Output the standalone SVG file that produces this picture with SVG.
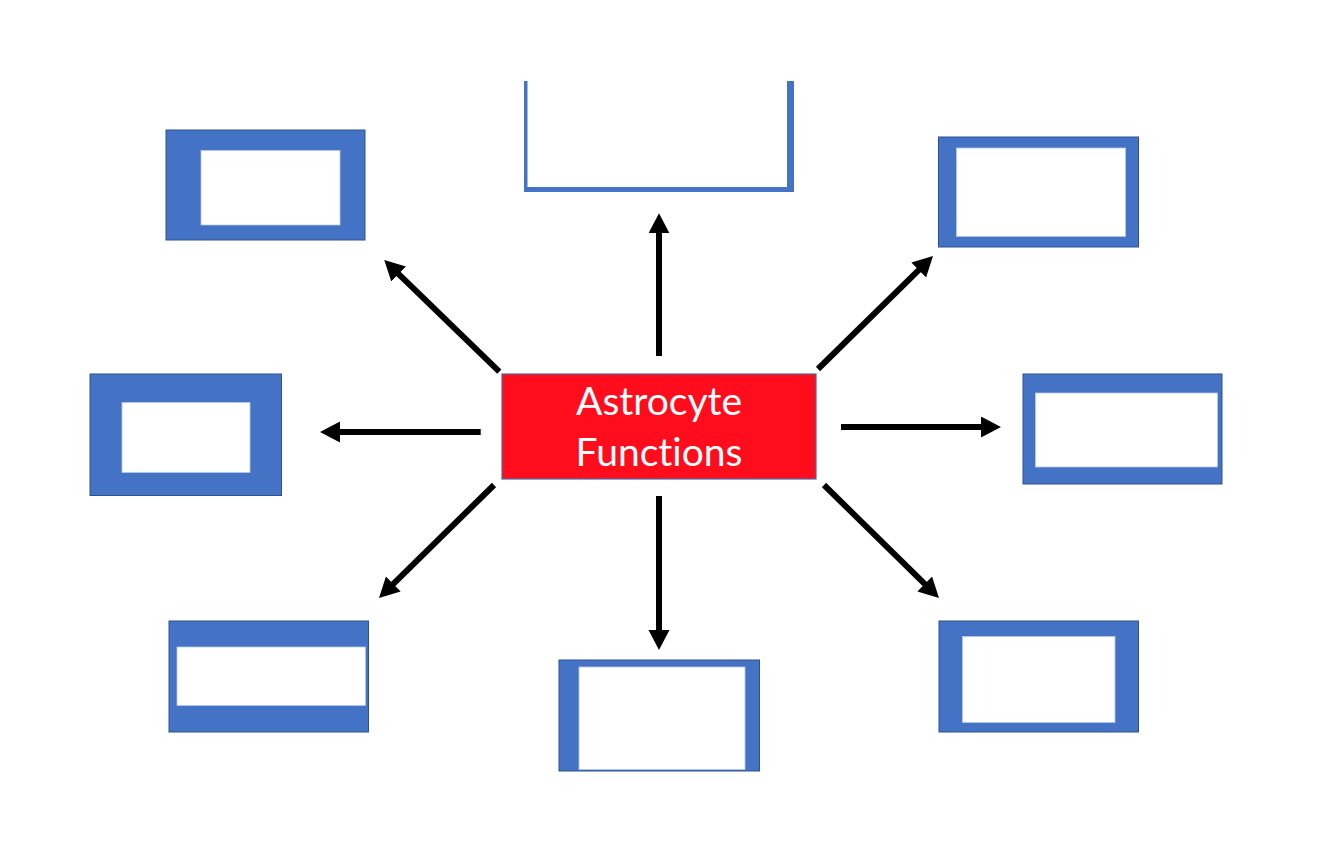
<svg xmlns="http://www.w3.org/2000/svg" width="1334" height="841" viewBox="0 0 1334 841">
<style>
.outer{fill:#4472C4;stroke:#2F528F;stroke-width:1}
.inner{fill:#FFFFFF;stroke:#B4C7E7;stroke-width:0.8}
.conn{stroke:#000000;stroke-width:6;fill:none;marker-end:url(#ah)}
.label{font-family:Lato,"Open Sans","Liberation Sans",sans-serif;font-size:39px;fill:#FFFFFF;text-anchor:middle;font-variant-ligatures:none}
</style>
<defs>
<marker id="ah" markerUnits="userSpaceOnUse" markerWidth="22" markerHeight="22" refX="6" refY="10.5" orient="auto" viewBox="0 0 22 22">
<path d="M0,0 L20,10.5 L0,21 z" fill="#000000"/>
</marker>
</defs>
<rect width="1334" height="841" fill="#FFFFFF"/>
<g id="node-top-left"><rect class="outer" x="166" y="130" width="199" height="110"/><rect class="inner" x="201" y="150.5" width="139" height="74.5"/></g>
<g id="node-top"><rect x="524" y="81" width="270" height="111" fill="#4472C4"/><rect x="527.5" y="78" width="259.5" height="109" fill="#FFFFFF"/></g>
<g id="node-top-right"><rect class="outer" x="938.5" y="137" width="200" height="110"/><rect class="inner" x="956.5" y="148" width="169" height="88.5"/></g>
<g id="node-left"><rect class="outer" x="90" y="374" width="191.5" height="121.5"/><rect class="inner" x="122" y="402.5" width="128" height="70"/></g>
<g id="node-right"><rect class="outer" x="1023" y="374" width="199" height="110"/><rect class="inner" x="1035.5" y="393" width="182" height="74"/></g>
<g id="node-bottom-left"><rect class="outer" x="169" y="621" width="199.5" height="111"/><rect class="inner" x="177" y="647" width="188.5" height="58.5"/></g>
<g id="node-bottom"><rect class="outer" x="559" y="660" width="200.5" height="111"/><rect class="inner" x="579" y="667" width="166" height="102.5"/></g>
<g id="node-bottom-right"><rect class="outer" x="939" y="621" width="199.5" height="111"/><rect class="inner" x="962.5" y="636.5" width="152.5" height="86"/></g>
<g id="node-center"><rect x="502" y="374" width="314" height="105" fill="#FF0D1D" stroke="#4A6AA8" stroke-width="1.2"/><text class="label" x="659" y="415">Astrocyte</text><text class="label" x="659" y="466">Functions</text></g>
<g id="connectors">
<line class="conn" x1="659" y1="356" x2="659" y2="227.3"/>
<line class="conn" x1="499.3" y1="371.7" x2="394.3" y2="269.8"/>
<line class="conn" x1="818" y1="369" x2="923" y2="265.8"/>
<line class="conn" x1="841" y1="427" x2="987" y2="427"/>
<line class="conn" x1="480.7" y1="432" x2="334" y2="432"/>
<line class="conn" x1="824" y1="485" x2="929" y2="588.2"/>
<line class="conn" x1="659" y1="496" x2="659" y2="636"/>
<line class="conn" x1="494" y1="485" x2="389" y2="588.2"/>
</g>
</svg>
